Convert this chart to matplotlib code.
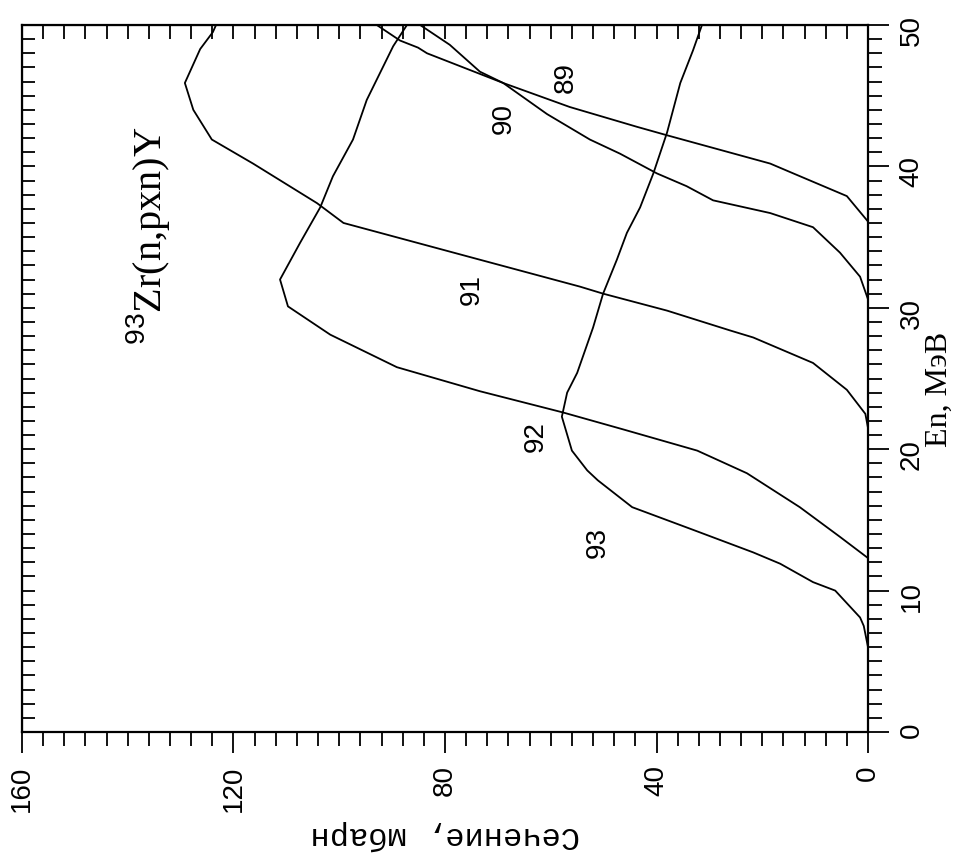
import matplotlib
matplotlib.use("Agg")
import matplotlib.pyplot as plt
from matplotlib.ticker import MultipleLocator, NullFormatter

plt.rcParams['mathtext.fontset'] = 'custom'
plt.rcParams['mathtext.rm'] = 'Liberation Sans'

# %% data: neutron energy (MeV) and cross section (mbarn) per product
e_93 = [6.0, 7.5, 8.1, 10.0, 10.6, 11.9, 12.7, 14.3, 15.9, 17.8, 18.5, 19.9, 22.3,
        24.0, 25.4, 28.6, 31.0, 33.4, 35.3, 37.1, 39.5, 42.4, 45.9, 48.2, 50.0]
s_93 = [0.0, 0.8, 1.5, 6.2, 10.4, 16.6, 21.7, 33.1, 44.6, 51.1, 53.1, 56.0, 57.9,
        56.9, 55.0, 52.0, 50.1, 47.5, 45.6, 43.1, 40.6, 38.0, 35.5, 33.1, 31.4]

e_92 = [12.3, 13.8, 15.9, 17.1, 18.3, 19.9, 21.4, 22.6, 24.1, 25.8, 28.1, 30.1,
        32.0, 34.6, 37.1, 39.3, 41.9, 44.7, 48.5, 50.0]
s_92 = [0.0, 5.3, 12.9, 17.9, 22.9, 32.3, 46.3, 57.7, 73.4, 89.1, 101.7, 109.7,
        111.2, 107.4, 103.6, 101.2, 97.4, 94.8, 89.8, 87.2]

e_91 = [21.5, 22.5, 24.2, 26.1, 27.9, 28.4, 29.8, 31.0, 31.5, 33.4, 36.0, 37.4,
        40.2, 41.9, 44.0, 45.9, 48.3, 49.5, 50.0]
s_91 = [0.0, 0.5, 4.0, 10.4, 21.7, 26.1, 38.0, 50.1, 54.5, 73.4, 99.2, 104.2,
        116.3, 124.1, 127.6, 129.2, 126.3, 123.9, 123.3]

e_90 = [30.6, 32.2, 33.9, 35.7, 36.7, 37.6, 38.6, 39.5, 40.9, 41.9, 43.7, 45.9,
        46.7, 48.6, 50.0]
s_90 = [0.0, 1.5, 5.3, 10.4, 18.5, 29.3, 34.3, 39.9, 46.9, 52.6, 60.7, 69.0,
        73.4, 79.1, 84.7]

e_89 = [36.1, 37.9, 39.5, 40.2, 42.2, 42.8, 44.2, 45.9, 48.0, 48.4, 48.9, 50.0]
s_89 = [0.0, 4.0, 14.1, 18.5, 38.0, 43.7, 56.4, 69.0, 83.4, 85.1, 88.5, 92.9]

curve_names = ['89', '90', '91', '92', '93']
# where each curve number is written (cross section, energy)
label_s = [57.1, 68.8, 74.9, 62.8, 51.1]
label_e = [46.3, 43.4, 31.3, 20.9, 13.4]

# %% plot (drawn rotated: cross section runs right-to-left, energy runs upward)
fig = plt.figure(figsize=(9.58, 8.61), dpi=100)
ax = fig.add_axes([22/958, 1 - 732/861, 846/958, 707/861])

for e, s in [(e_93, s_93), (e_92, s_92), (e_91, s_91), (e_90, s_90), (e_89, s_89)]:
    ax.plot(s, e, color='black', lw=1.3)

for name, s, e in zip(curve_names, label_s, label_e):
    ax.text(s, e, name, rotation=90, ha='center', va='center',
            fontsize=20, family='Liberation Sans')

ax.text(136.2, 35.1, r'$^{93}$Zr(n,pxn)Y', rotation=90, ha='center', va='center',
        fontsize=29, family='Liberation Serif')

ax.set_xlim(160, 0)
ax.set_ylim(0, 50)
ax.xaxis.set_major_locator(MultipleLocator(40))
ax.xaxis.set_minor_locator(MultipleLocator(4))
ax.yaxis.set_major_locator(MultipleLocator(10))
ax.yaxis.set_minor_locator(MultipleLocator(1))
ax.yaxis.tick_right()
ax.tick_params(which='both', direction='out', width=1.3, labelsize=20, pad=9)
ax.tick_params(which='major', length=15)
ax.tick_params(which='minor', length=10)
ax.tick_params(axis='y', pad=7)
ax.tick_params(axis='both', labelrotation=90)
for lab in ax.get_xticklabels() + ax.get_yticklabels():
    lab.set_family('Liberation Sans')

top = ax.secondary_xaxis('top')
top.xaxis.set_major_locator(MultipleLocator(4))
top.xaxis.set_major_formatter(NullFormatter())
top.tick_params(direction='in', length=10, width=1.3)
left = ax.secondary_yaxis('left')
left.yaxis.set_major_locator(MultipleLocator(1))
left.yaxis.set_major_formatter(NullFormatter())
left.tick_params(direction='in', length=9, width=1.3)

for sp in ax.spines.values():
    sp.set_linewidth(1.6)

ax.set_xlabel('Сечение, мбарн', rotation=180, fontsize=23,
              family='Liberation Mono', labelpad=6)
ax.yaxis.set_label_position('right')
ax.set_ylabel('En, МэВ', rotation=90, fontsize=23,
              family='Liberation Serif', labelpad=0)
ax.yaxis.label.set_y(0.485)

fig.savefig('out.png', dpi=100)
